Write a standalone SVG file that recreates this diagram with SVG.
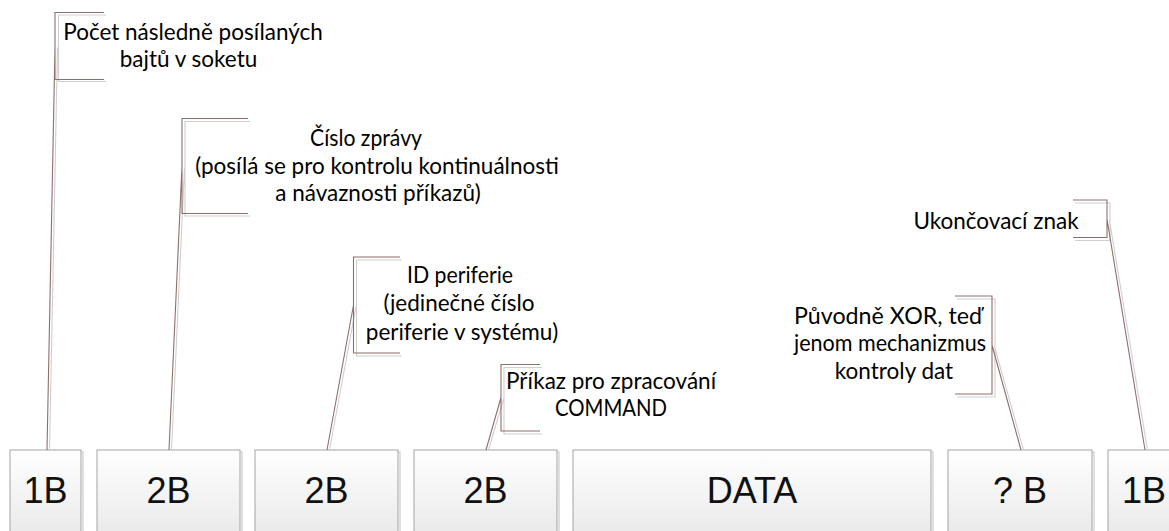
<svg xmlns="http://www.w3.org/2000/svg" width="1169" height="531" viewBox="0 0 1169 531">
  <defs>
    <linearGradient id="boxFill" x1="0" y1="0" x2="0" y2="1">
      <stop offset="0" stop-color="#ffffff"/>
      <stop offset="0.15" stop-color="#fbfbfb"/>
      <stop offset="1" stop-color="#e6e6e6"/>
    </linearGradient>
  </defs>
  <style>
    .box { fill: url(#boxFill); stroke: #a3a3a3; stroke-width: 1; }
    .boxShadow { fill: none; stroke: #d6d6d6; stroke-width: 1.5; }
    .boxText { font-family: "Liberation Sans", Arial, sans-serif; font-size: 36px; fill: #111111; text-anchor: middle; }
    .note { font-family: Lato, "Carlito", "Liberation Sans", sans-serif; font-size: 22.5px; fill: #000000; text-anchor: middle; }
    .ink { fill: none; stroke: #8e6f6c; stroke-width: 1.1; }
    .shade { fill: none; stroke: #cfcfcf; stroke-width: 1.1; }
  </style>
  <rect width="1169" height="531" fill="#ffffff"/>

  <!-- field boxes of the packet -->
  <g id="field-len">
    <rect class="boxShadow" x="12" y="452" width="71" height="100"/>
    <rect class="box" x="10" y="450" width="71" height="100"/>
    <text class="boxText" x="45.5" y="503">1B</text>
  </g>
  <g id="field-msgno">
    <rect class="boxShadow" x="99" y="452" width="143" height="100"/>
    <rect class="box" x="97" y="450" width="143" height="100"/>
    <text class="boxText" x="168.5" y="503">2B</text>
  </g>
  <g id="field-periph">
    <rect class="boxShadow" x="257" y="452" width="143" height="100"/>
    <rect class="box" x="255" y="450" width="143" height="100"/>
    <text class="boxText" x="326.5" y="503">2B</text>
  </g>
  <g id="field-command">
    <rect class="boxShadow" x="416" y="452" width="143" height="100"/>
    <rect class="box" x="414" y="450" width="143" height="100"/>
    <text class="boxText" x="485.5" y="503">2B</text>
  </g>
  <g id="field-data">
    <rect class="boxShadow" x="575" y="452" width="358" height="100"/>
    <rect class="box" x="573" y="450" width="358" height="100"/>
    <text class="boxText" x="752" y="503">DATA</text>
  </g>
  <g id="field-check">
    <rect class="boxShadow" x="950" y="452" width="144" height="100"/>
    <rect class="box" x="948" y="450" width="144" height="100"/>
    <text class="boxText" x="1020" y="503">? B</text>
  </g>
  <g id="field-end">
    <rect class="boxShadow" x="1110" y="452" width="72" height="100"/>
    <rect class="box" x="1108" y="450" width="72" height="100"/>
    <text class="boxText" x="1144" y="503">1B</text>
  </g>

  <!-- callout brackets and leader lines -->
  <g id="connectors">
    <!-- length -->
    <path class="shade" d="M106,15 H58.5 V81.5 H106 M57.5,47.5 L49.5,450"/>
    <path class="ink" d="M104,12.5 H55 V79.5 H104 M55,46 L47,450"/>
    <!-- message number -->
    <path class="shade" d="M250,121.5 H185 V216 H250 M184.5,167.5 L171.5,450"/>
    <path class="ink" d="M248,118.5 H182 V213.5 H248 M182,166 L169,450"/>
    <!-- peripheral id -->
    <path class="shade" d="M402,260 H356.5 V356 H402 M356,306.5 L329.5,450"/>
    <path class="ink" d="M400,257 H353.5 V353 H400 M353.5,305 L327,450"/>
    <!-- command -->
    <path class="shade" d="M542,367.5 H504 V434 H542 M503.5,399 L488.5,450"/>
    <path class="ink" d="M540,364.5 H501 V431 H540 M501,397.5 L486,450"/>
    <!-- check -->
    <path class="shade" d="M957,299 H995 V397 H957 M994.5,346.5 L1023.5,450"/>
    <path class="ink" d="M955,296 H992 V394 H955 M992,345 L1021,450"/>
    <!-- terminator -->
    <path class="shade" d="M1075,203 H1110 V240.5 H1075 M1109.5,220.5 L1147.5,450"/>
    <path class="ink" d="M1073,200 H1107 V237.5 H1073 M1107,219 L1145,450"/>
  </g>

  <!-- callout texts -->
  <g id="note-len">
    <text class="note" x="193" y="39.5">Počet následně posílaných</text>
    <text class="note" x="188.5" y="67">bajtů v soketu</text>
  </g>
  <g id="note-msgno">
    <text class="note" x="366" y="146" textLength="112" lengthAdjust="spacingAndGlyphs">Číslo zprávy</text>
    <text class="note" x="377" y="173.5">(posílá se pro kontrolu kontinuálnosti</text>
    <text class="note" x="378" y="201">a návaznosti příkazů)</text>
  </g>
  <g id="note-periph">
    <text class="note" x="460" y="283" textLength="106" lengthAdjust="spacingAndGlyphs">ID periferie</text>
    <text class="note" x="459" y="311">(jedinečné číslo</text>
    <text class="note" x="462" y="339.5">periferie v systému)</text>
  </g>
  <g id="note-command">
    <text class="note" x="611" y="388.5">Příkaz pro zpracování</text>
    <text class="note" x="611" y="415.5" textLength="112" lengthAdjust="spacingAndGlyphs">COMMAND</text>
  </g>
  <g id="note-check">
    <text class="note" x="888" y="323.5" textLength="188" lengthAdjust="spacingAndGlyphs">Původně XOR, teď</text>
    <text class="note" x="890" y="351" textLength="192" lengthAdjust="spacingAndGlyphs">jenom mechanizmus</text>
    <text class="note" x="894" y="378.5">kontroly dat</text>
  </g>
  <g id="note-end">
    <text class="note" x="996" y="229">Ukončovací znak</text>
  </g>
</svg>
